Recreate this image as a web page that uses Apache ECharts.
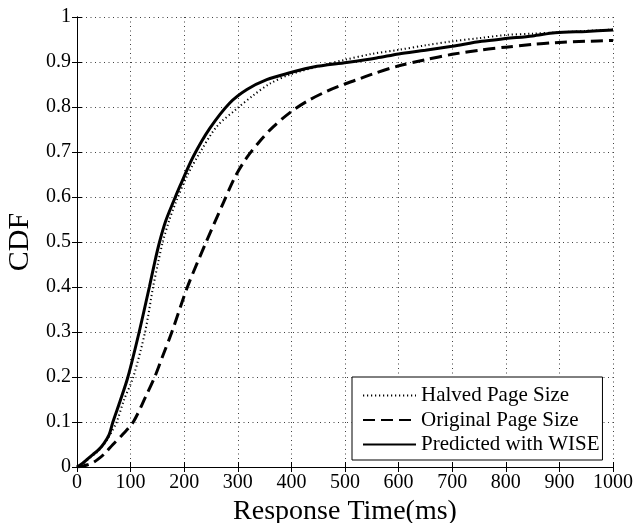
<!DOCTYPE html>
<html>
<head>
<meta charset="utf-8">
<script src="https://cdn.jsdelivr.net/npm/echarts@6/dist/echarts.min.js"></script>
<style>
html,body{margin:0;padding:0;background:#fff;}
#main{width:635px;height:523px;}
</style>
</head>
<body>
<div id="main"></div>
<script>
// response time (ms) and CDF values
var halvedTime = [0,10,20,30,40,50,60,74,88,105,127,142,151,160,172,185,205,229,261,298,329,360,397,450,500,550,600,650,700,750,800,850,900,950,1000];
var halvedCdf  = [0,0.007,0.016,0.026,0.036,0.05,0.068,0.1,0.15,0.2,0.3,0.4,0.452,0.5,0.548,0.59,0.646,0.698,0.757,0.796,0.826,0.852,0.872,0.89,0.905,0.918,0.927,0.937,0.946,0.953,0.96,0.963,0.966,0.969,0.972];

var originalTime = [0,10,20,30,40,50,67,85,105,128,145,161,177,206,241,273,295,317,341,366,400,431,466,497,528,553,599,650,700,755,800,850,892,950,1000];
var originalCdf  = [0,0.002,0.005,0.01,0.018,0.028,0.05,0.072,0.1,0.156,0.2,0.25,0.3,0.4,0.5,0.587,0.645,0.688,0.724,0.756,0.79,0.814,0.835,0.85,0.863,0.874,0.891,0.905,0.917,0.927,0.933,0.939,0.943,0.946,0.948];

var wiseTime = [0,10,20,30,40,50,60,67,80,95,116,135,145,154,165,180,192,217,248,285,317,354,397,441,503,559,600,650,700,755,800,850,892,950,1000];
var wiseCdf  = [0,0.008,0.018,0.028,0.038,0.052,0.072,0.1,0.145,0.2,0.3,0.4,0.455,0.5,0.545,0.59,0.624,0.69,0.753,0.809,0.839,0.861,0.876,0.889,0.899,0.909,0.918,0.926,0.935,0.946,0.952,0.958,0.965,0.968,0.971];

var seriesNames = ['Halved Page Size','Original Page Size','Predicted with WISE'];

function pairs(xs, ys){
  var out = [];
  for (var i = 0; i < xs.length; i++) out.push([xs[i], ys[i]]);
  return out;
}

var font = 'Liberation Serif';
var gridLine = {show:true, lineStyle:{color:'#000', width:1, type:[1,3.5], opacity:0.75}};

var myChart = echarts.init(document.getElementById('main'));
var option = {
  backgroundColor:'#fff',
  animation:false,
  grid:{left:77, right:22, top:17, bottom:56, containLabel:false, outerBoundsMode:'none'},
  legend:{
    orient:'vertical',
    left:352, top:377,
    data:seriesNames,
    itemWidth:53, itemHeight:20, itemGap:3.5, itemTextGap:5,
    padding:[8,3,5,10],
    backgroundColor:'#fff',
    borderColor:'#000', borderWidth:1, borderRadius:0,
    itemStyle:{opacity:0},
    textStyle:{fontFamily:font, fontSize:21, color:'#000'}
  },
  xAxis:[{
    type:'value', min:0, max:1000, interval:100,
    axisLine:{show:true, lineStyle:{color:'#000', width:1}},
    axisTick:{inside:true, length:5, lineStyle:{color:'#000'}},
    axisLabel:{fontFamily:font, fontSize:20, color:'#000', margin:6, showMaxLabel:true,
      formatter:function(v){ return String(v); }},
    splitLine:gridLine,
    name:'Response Time(ms)', nameLocation:'middle', nameGap:30,
    nameTextStyle:{fontFamily:font, fontSize:28, color:'#000'}
  },{
    type:'value', min:0, max:1000, interval:100, position:'top',
    axisLine:{show:true, lineStyle:{color:'#000', width:1}},
    axisTick:{inside:true, length:5, lineStyle:{color:'#000'}},
    axisLabel:{show:false}, splitLine:{show:false}
  }],
  yAxis:[{
    type:'value', min:0, max:1, interval:0.1,
    axisLine:{show:true, lineStyle:{color:'#000', width:1}},
    axisTick:{inside:true, length:5, lineStyle:{color:'#000'}},
    axisLabel:{fontFamily:font, fontSize:20, color:'#000', margin:6},
    splitLine:gridLine,
    name:'CDF', nameLocation:'middle', nameGap:41,
    nameTextStyle:{fontFamily:font, fontSize:30, color:'#000'}
  },{
    type:'value', min:0, max:1, interval:0.1, position:'right',
    axisLine:{show:true, lineStyle:{color:'#000', width:1}},
    axisTick:{inside:true, length:5, lineStyle:{color:'#000'}},
    axisLabel:{show:false}, splitLine:{show:false}
  }],
  series:[{
    name:seriesNames[0], type:'line', showSymbol:false, symbol:'none',
    smooth:0.3,
    data:pairs(halvedTime, halvedCdf),
    lineStyle:{color:'#000', width:2, type:[1.2,2.8]},
    itemStyle:{color:'#000'}, z:3
  },{
    name:seriesNames[1], type:'line', showSymbol:false, symbol:'none',
    smooth:0.3,
    data:pairs(originalTime, originalCdf),
    lineStyle:{color:'#000', width:3, type:[12,6]},
    itemStyle:{color:'#000'}, z:2
  },{
    name:seriesNames[2], type:'line', showSymbol:false, symbol:'none',
    smooth:0.3,
    data:pairs(wiseTime, wiseCdf),
    lineStyle:{color:'#000', width:3, type:'solid'},
    itemStyle:{color:'#000'}, z:4
  }]
};
myChart.setOption(option);
</script>
</body>
</html>
